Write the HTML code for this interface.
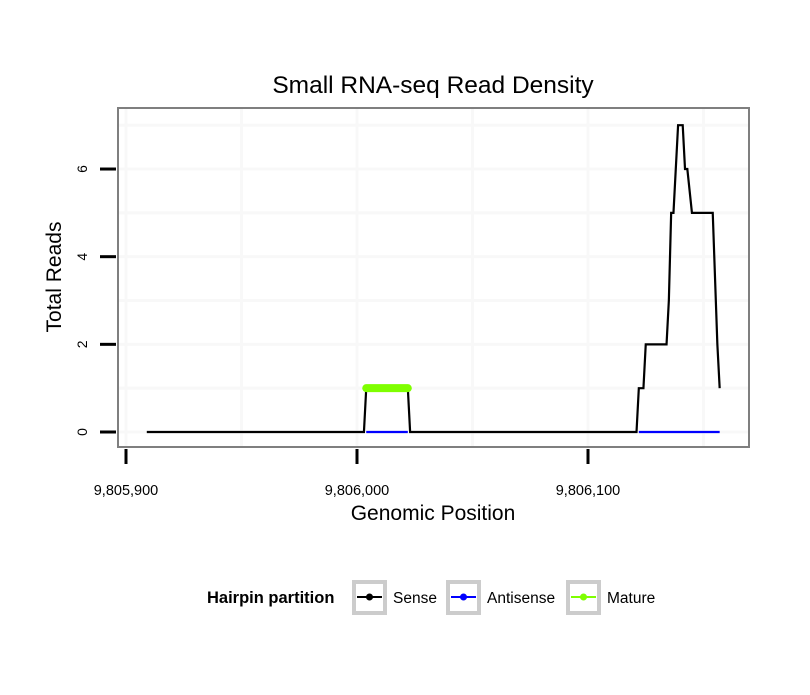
<!DOCTYPE html>
<html><head><meta charset="utf-8"><style>
body{margin:0;background:#fff;font-family:"Liberation Sans",sans-serif}
</style></head><body>
<svg id="chart" width="810" height="690" xmlns="http://www.w3.org/2000/svg" font-family="Liberation Sans, sans-serif">
<rect width="810" height="690" fill="#fff"/>
<text x="433" y="93" text-anchor="middle" font-size="24.5">Small RNA-seq Read Density</text>
<g id="grid"></g>
<g id="series"></g>
<rect x="118" y="108" width="631" height="339" fill="none" stroke="#7f7f7f" stroke-width="2"/>
<g id="axes"></g>
<text x="433" y="520" text-anchor="middle" font-size="21">Genomic Position</text>
<text transform="translate(61,277) rotate(-90)" text-anchor="middle" font-size="21">Total Reads</text>
<g>
<text x="207" y="603" font-size="16.5" font-weight="bold">Hairpin partition</text>
<g>
<rect x="354" y="582" width="31" height="31" fill="#fff" stroke="#ccc" stroke-width="4"/>
<line x1="357" y1="597" x2="382" y2="597" stroke="#000" stroke-width="2"/><circle cx="369.5" cy="597" r="3.5" fill="#000"/>
<text x="393" y="603" font-size="15.5">Sense</text></g>
<g>
<rect x="448" y="582" width="31" height="31" fill="#fff" stroke="#ccc" stroke-width="4"/>
<line x1="451" y1="597" x2="476" y2="597" stroke="#00f" stroke-width="2"/><circle cx="463.5" cy="597" r="3.5" fill="#00f"/>
<text x="487" y="603" font-size="15.5">Antisense</text></g>
<g>
<rect x="568" y="582" width="31" height="31" fill="#fff" stroke="#ccc" stroke-width="4"/>
<line x1="571" y1="597" x2="596" y2="597" stroke="#7fff00" stroke-width="2"/><circle cx="583.5" cy="597" r="3.5" fill="#7fff00"/>
<text x="607" y="603" font-size="15.5">Mature</text></g>
</g>
</svg>
<script>
const xTicks=[9805900,9806000,9806100];
const xMinor=[9805950,9806050,9806150];
const yTicks=[0,2,4,6];
const yMinor=[1,3,5,7];
const sensePos=[9805909,9806003,9806004,9806022,9806023,9806121,9806122,9806124,9806125,9806134,9806135,9806136,9806137,9806139,9806141,9806142,9806143,9806145,9806154,9806156,9806157];
const senseVal=[0,0,1,1,0,0,1,1,2,2,3,5,5,7,7,6,6,5,5,2,1];
const antiPos=[[9806004,9806022],[9806122,9806157]];
const antiVal=[[0,0],[0,0]];
const maturePos=[9806004,9806022];
const matureVal=[1,1];
const NS="http://www.w3.org/2000/svg";
const X=v=>126+(v-9805900)*2.31;
const Y=v=>432-v*43.83;
function mk(t,a,p){const e=document.createElementNS(NS,t);for(const k in a)e.setAttribute(k,a[k]);document.getElementById(p).appendChild(e);return e;}
xMinor.concat(xTicks).forEach(v=>{if(X(v)>121&&X(v)<748){const l=mk('line',{x1:X(v),x2:X(v),y1:109,y2:446,stroke:'#f8f8f8','stroke-width':3},'grid');

}});
yMinor.concat(yTicks).forEach(v=>{if(Y(v)>109&&Y(v)<446){const l=mk('line',{x1:119,x2:748,y1:Y(v),y2:Y(v),stroke:'#f8f8f8','stroke-width':3},'grid');

}});
xTicks.forEach(v=>{const l=mk('line',{x1:X(v),x2:X(v),y1:449,y2:464,stroke:'#000','stroke-width':3},'axes');


const t=mk('text',{x:X(v),y:495,'text-anchor':'middle','font-size':14.5},'axes');t.textContent=v.toLocaleString('en-US');

});
yTicks.forEach(v=>{const l=mk('line',{x1:100,x2:116,y1:Y(v),y2:Y(v),stroke:'#000','stroke-width':3},'axes');


const t=mk('text',{transform:`translate(87,${Y(v)}) rotate(-90)`,'text-anchor':'middle','font-size':14},'axes');t.textContent=v;

});
const s=mk('polyline',{points:sensePos.map((p,i)=>X(p)+','+Y(senseVal[i])).join(' '),fill:'none',stroke:'#000','stroke-width':2.2,'stroke-linejoin':'miter'},'series');


antiPos.forEach((seg,j)=>{const a=mk('polyline',{points:seg.map((p,i)=>X(p)+','+Y(antiVal[j][i])).join(' '),fill:'none',stroke:'#00f','stroke-width':2.2},'series');

});
const m=mk('polyline',{points:maturePos.map((p,i)=>X(p)+','+Y(matureVal[i])).join(' '),fill:'none',stroke:'#7fff00','stroke-width':8,'stroke-linecap':'round'},'series');


</script>
</body></html>
